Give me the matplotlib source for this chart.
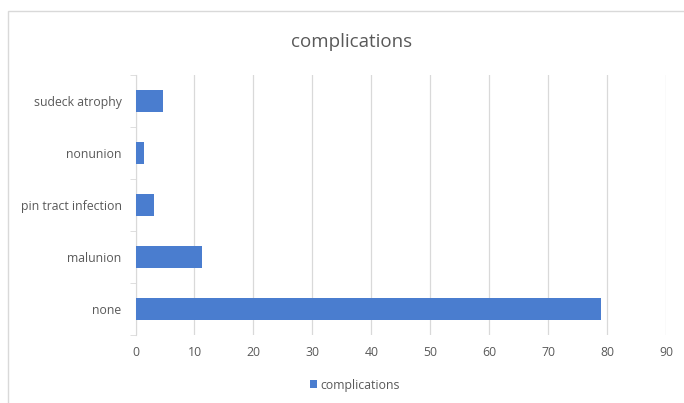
import matplotlib.pyplot as plt
from matplotlib.patches import Rectangle
import numpy as np

categories = ['none', 'malunion', 'pin tract infection', 'nonunion', 'sudeck atrophy']
values = [78.9, 11.3, 3.1, 1.5, 4.7]
xticks = [0, 10, 20, 30, 40, 50, 60, 70, 80, 90]

plt.rcParams['font.family'] = ['Open Sans', 'DejaVu Sans']
txt = '#595959'

fig = plt.figure(figsize=(6.84, 4.03), dpi=100)
ax = fig.add_axes([135.5 / 684, 1 - 335 / 403, (666 - 135.5) / 684, (335 - 75) / 403])

y = np.arange(len(categories))
ax.barh(y, values, height=0.42, color='#4a7dcf', zorder=3, label='complications')

ax.set_xlim(0, 90)
ax.set_ylim(-0.5, len(categories) - 0.5)
ax.set_xticks(xticks)
ax.set_yticks(y)
ax.set_yticklabels(categories)
ax.set_yticks(np.arange(-0.5, len(categories), 1), minor=True)
ax.tick_params(axis='y', which='major', length=0, pad=10, labelsize=8.8, labelcolor=txt)
ax.tick_params(axis='y', which='minor', length=4, color='#d9d9d9')
ax.tick_params(axis='x', length=0, pad=8, labelsize=8.8, labelcolor=txt)
ax.grid(axis='x', color='#d9d9d9', linewidth=0.9, zorder=0)
for s in ['top', 'right', 'bottom']:
    ax.spines[s].set_visible(False)
ax.spines['left'].set_color('#d9d9d9')

fig.text(352 / 684, 1 - 42 / 403, 'complications', ha='center', va='center', fontsize=13.5, color=txt)

leg = fig.legend(loc='center', bbox_to_anchor=(355 / 684, 1 - 385 / 403), frameon=False,
                 fontsize=8.8, handlelength=0.6, handleheight=0.6, handletextpad=0.3)
for t in leg.get_texts():
    t.set_color(txt)

fig.patches.append(Rectangle((8 / 684, -0.05), 1.1, 1 - 11 / 403 + 0.05, transform=fig.transFigure,
                             fill=False, edgecolor='#d9d9d9', linewidth=1))

fig.savefig('out.png', dpi=100)
